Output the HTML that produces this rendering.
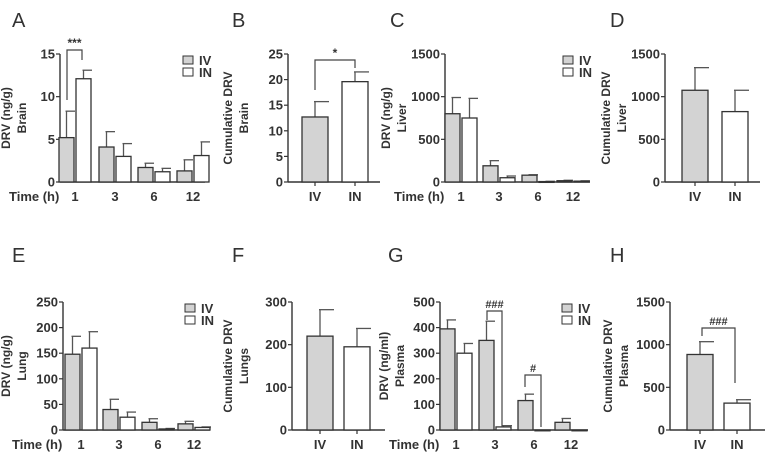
<!DOCTYPE html>
<html><head><meta charset="utf-8"><style>
html,body{margin:0;padding:0;background:#fff;width:765px;height:460px;overflow:hidden}
svg{display:block}
text{font-family:"Liberation Sans",sans-serif;fill:#333}
</style></head><body>
<svg id="fig" width="765" height="460" xmlns="http://www.w3.org/2000/svg"></svg>
<script>
// ---- data ----
const timeCats = ["1","3","6","12"];
const groupCats = ["IV","IN"];
const brainIV = [5.2,4.1,1.7,1.3];    const brainIVErr = [3.1,1.8,0.5,1.3];
const brainIN = [12.1,3.0,1.2,3.1];   const brainINErr = [1.0,1.5,0.4,1.6];
const brainCum = [12.7,19.6];         const brainCumErr = [3.0,1.9];
const liverIV = [800,190,80,15];      const liverIVErr = [190,60,5,5];
const liverIN = [750,50,5,10];        const liverINErr = [230,20,3,4];
const liverCum = [1075,825];          const liverCumErr = [265,250];
const lungIV = [148,40,15,12];        const lungIVErr = [35,20,7,5];
const lungIN = [160,25,2,5];          const lungINErr = [32,10,1,1];
const lungCum = [220,195];            const lungCumErr = [62,43];
const plasmaIV = [395,350,115,30];    const plasmaIVErr = [35,75,25,15];
const plasmaIN = [300,12,0,0];        const plasmaINErr = [38,5,0,0];
const plasmaCum = [885,315];          const plasmaCumErr = [150,40];
const brainTicks = [0,5,10,15];
const cumBrainTicks = [0,5,10,15,20,25];
const liverTicks = [0,500,1000,1500];
const lungTicks = [0,50,100,150,200,250];
const cumLungTicks = [0,100,200,300];
const plasmaTicks = [0,100,200,300,400,500];
const cumPlasmaTicks = [0,500,1000,1500];

const svg = document.getElementById('fig');
const NS = "http://www.w3.org/2000/svg";
function el(tag, attrs, parent){const e=document.createElementNS(NS,tag);for(const k in attrs)e.setAttribute(k,attrs[k]);(parent||svg).appendChild(e);return e;}
function txt(s,x,y,attrs,parent){const t=el('text',Object.assign({x:x,y:y},attrs),parent);t.textContent=s;return t;}

function axes(g,x0,x1,yTop,yBot,max,ticks,title1,title2,tx){
  const ys=v=>yBot-(v/max)*(yBot-yTop);
  el('line',{x1:x0,y1:yTop,x2:x0,y2:yBot,stroke:'#333','stroke-width':1.4},g);
  el('line',{x1:x0,y1:yBot,x2:x1,y2:yBot,stroke:'#333','stroke-width':1.4},g);
  ticks.forEach(v=>{
    el('line',{x1:x0-4,y1:ys(v),x2:x0,y2:ys(v),stroke:'#333','stroke-width':1.2},g);
    const t=txt(String(v),x0-5,ys(v)+4.5,{'text-anchor':'end','font-size':13,'font-weight':'bold'},g);
    
    
  });
  const cy=(yTop+yBot)/2;
  const a=txt(title1,tx,cy,{'text-anchor':'middle','font-size':12,'font-weight':'bold',transform:`rotate(-90 ${tx} ${cy})`},g);
  
  
  if(title2){const b=txt(title2,tx+16,cy,{'text-anchor':'middle','font-size':12,'font-weight':'bold',transform:`rotate(-90 ${tx+16} ${cy})`},g);
    
    }
  return ys;
}
function bar(g,x,w,v,err,ys,fill,yBot){
  const y=ys(v);
  if(err>0){
    el('line',{x1:x+w/2,y1:y,x2:x+w/2,y2:ys(v+err),stroke:'#555','stroke-width':1.3},g);
    el('line',{x1:x+w/2-1,y1:ys(v+err),x2:x+w+1,y2:ys(v+err),stroke:'#555','stroke-width':1.3},g);
  }
  const r=el('rect',{x:x,y:y,width:w,height:Math.max(yBot-y,0.8),fill:fill,stroke:'#333','stroke-width':1.3},g);
  
  
}
function timePanel(name,letter,lx,ly,x0,x1,yTop,yBot,max,ticks,t1,t2,tx,centers,iv,ivE,inn,inE,legX){
  const g=el('g',{});
  
  
  const L=txt(letter,lx,ly,{'font-size':20},g);
  
  
  const ys=axes(g,x0,x1,yTop,yBot,max,ticks,t1,t2,tx);
  timeCats.forEach((c,i)=>{
    bar(g,centers[i]-15,15,iv[i],ivE[i],ys,'#d3d3d3',yBot);
    bar(g,centers[i]+2,15,inn[i],inE[i],ys,'#fff',yBot);
    const t=txt(c,centers[i]+1,yBot+19,{'text-anchor':'middle','font-size':13,'font-weight':'bold'},g);
    
    
  });
  const tt=txt('Time (h)',x0-51,yBot+19,{'font-size':13,'font-weight':'bold'},g);
  
  
  const lg=el('g',{},g);
  
  
  el('rect',{x:legX,y:yTop+2,width:10,height:8,fill:'#d3d3d3',stroke:'#333'},lg);
  el('rect',{x:legX,y:yTop+14,width:10,height:8,fill:'#fff',stroke:'#333'},lg);
  txt('IV',legX+16,yTop+11,{'font-size':13,'font-weight':'bold'},lg);
  txt('IN',legX+16,yTop+23,{'font-size':13,'font-weight':'bold'},lg);
  return ys;
}
function cumPanel(name,letter,lx,ly,x0,x1,yTop,yBot,max,ticks,t1,t2,tx,centers,vals,errs){
  const g=el('g',{});
  
  
  const L=txt(letter,lx,ly,{'font-size':20},g);
  
  
  const ys=axes(g,x0,x1,yTop,yBot,max,ticks,t1,t2,tx);
  groupCats.forEach((c,i)=>{
    bar(g,centers[i]-13,26,vals[i],errs[i],ys,i===0?'#d3d3d3':'#fff',yBot);
    el('line',{x1:centers[i],y1:yBot,x2:centers[i],y2:yBot+4,stroke:'#333','stroke-width':1.2},g);
    const t=txt(c,centers[i],yBot+19,{'text-anchor':'middle','font-size':13,'font-weight':'bold'},g);
    
    
  });
  return ys;
}
function bracket(x1,yl,x2,yr,yt,label,ls){
  const g=el('g',{});
  
  
  el('polyline',{points:`${x1},${yl} ${x1},${yt} ${x2},${yt} ${x2},${yr}`,fill:'none',stroke:'#444','stroke-width':1.2},g);
  txt(label,(x1+x2)/2,yt-3,{'text-anchor':'middle','font-size':ls||12,'font-weight':'bold'},g);
}

timePanel('panel-a-brain','A',12,27,60,205,54,182,15,brainTicks,'DRV (ng/g)','Brain',10,[74,114,153,192],brainIV,brainIVErr,brainIN,brainINErr,183);
cumPanel('panel-b-brain-cumulative','B',232,27,288,380,54,182,25,cumBrainTicks,'Cumulative DRV','Brain',232,[315,355],brainCum,brainCumErr);
timePanel('panel-c-liver','C',390,27,445,590,54,182,1500,liverTicks,'DRV (ng/g)','Liver',390,[460,498,537,572],liverIV,liverIVErr,liverIN,liverINErr,563);
cumPanel('panel-d-liver-cumulative','D',610,27,665,760,54,182,1500,liverTicks,'Cumulative DRV','Liver',610,[695,735],liverCum,liverCumErr);
timePanel('panel-e-lung','E',12,262,63,210,302,430,250,lungTicks,'DRV (ng/g)','Lung',10,[80,118,157,193],lungIV,lungIVErr,lungIN,lungINErr,185);
cumPanel('panel-f-lung-cumulative','F',232,262,292,385,302,430,300,cumLungTicks,'Cumulative DRV','Lungs',232,[320,357],lungCum,lungCumErr);
timePanel('panel-g-plasma','G',388,262,440,588,302,430,500,plasmaTicks,'DRV (ng/ml)','Plasma',388,[455,494,533,570],plasmaIV,plasmaIVErr,plasmaIN,plasmaINErr,562);
cumPanel('panel-h-plasma-cumulative','H',610,262,670,765,302,430,1500,cumPlasmaTicks,'Cumulative DRV','Plasma',612,[700,737],plasmaCum,plasmaCumErr);

bracket(67,100,82,60,50,'***');
bracket(315,90,355,68,60,'*');
bracket(487,320,502,427,311,'###',11);
bracket(525,387,541,427,375,'#',11);
bracket(702,336,735,383,328,'###',11);
</script>
</body></html>
